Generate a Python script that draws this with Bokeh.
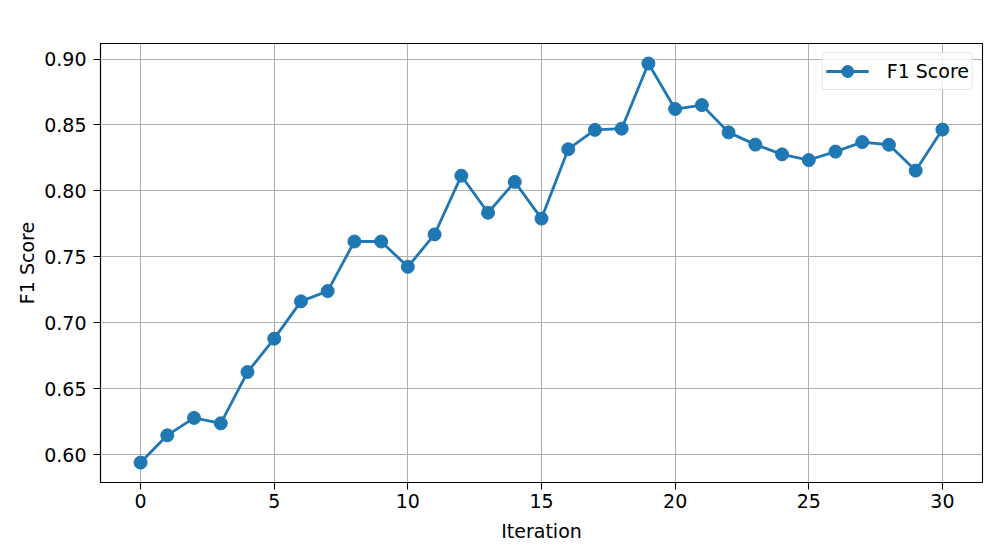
from bokeh.plotting import figure
from bokeh.models import FixedTicker, NumeralTickFormatter, Range1d, Legend, LegendItem
from bokeh.embed import file_html
from bokeh.resources import INLINE

iterations = list(range(31))
f1_scores = [0.5939, 0.6146, 0.6278, 0.6237, 0.6626, 0.6879, 0.7162, 0.7240,
             0.7616, 0.7616, 0.7424, 0.7670, 0.8115, 0.7834, 0.8068, 0.7790,
             0.8316, 0.8463, 0.8472, 0.8966, 0.8621, 0.8651, 0.8444, 0.8351,
             0.8277, 0.8234, 0.8298, 0.8370, 0.8350, 0.8154, 0.8465]
x_ticks = [0, 5, 10, 15, 20, 25, 30]
y_ticks = [0.60, 0.65, 0.70, 0.75, 0.80, 0.85, 0.90]

FONT = "DejaVu Sans"
FS = "19px"
BLUE = "#1f77b4"

p = figure(width=996, height=557, output_backend="svg", toolbar_location=None,
           x_range=Range1d(-1.5, 31.5), y_range=Range1d(0.5788, 0.9118),
           min_border_left=100, min_border_right=14, min_border_top=43, min_border_bottom=75)

line = p.line(iterations, f1_scores, line_color=BLUE, line_width=2.8)
pts = p.scatter(iterations, f1_scores, size=13, fill_color=BLUE, line_color=BLUE)

p.xaxis.ticker = FixedTicker(ticks=x_ticks)
p.yaxis.ticker = FixedTicker(ticks=y_ticks)
p.yaxis.formatter = NumeralTickFormatter(format="0.00")
p.xaxis.axis_label = "Iteration"
p.yaxis.axis_label = "F1 Score"
for ax in (p.xaxis, p.yaxis):
    ax.axis_label_text_font = FONT
    ax.axis_label_text_font_size = FS
    ax.axis_label_text_font_style = "normal"
    ax.axis_label_text_color = "black"
    ax.major_label_text_font = FONT
    ax.major_label_text_font_size = FS
    ax.major_label_text_color = "black"
    ax.minor_tick_line_color = None
    ax.major_tick_in = 0
    ax.major_tick_out = 7
    ax.major_tick_line_color = "black"
    ax.major_tick_line_width = 1.1
    ax.axis_line_color = "black"
    ax.axis_line_width = 1.1
p.xaxis.axis_label_standoff = 9
p.yaxis.axis_label_standoff = 3
p.xaxis.major_label_standoff = 4
p.yaxis.major_label_standoff = 7

p.outline_line_color = "black"
p.outline_line_width = 1.1
p.outline_line_alpha = 1
p.xgrid.grid_line_color = "#b0b0b0"
p.ygrid.grid_line_color = "#b0b0b0"
p.xgrid.grid_line_width = 1.1
p.ygrid.grid_line_width = 1.1

legend = Legend(items=[LegendItem(label="F1 Score", renderers=[line, pts])],
                location="top_right")
legend.label_text_font = FONT
legend.label_text_font_size = FS
legend.label_text_color = "black"
legend.border_line_color = "#cccccc"
legend.border_line_width = 1.1
legend.border_radius = 4
legend.background_fill_alpha = 0.8
legend.glyph_width = 43
legend.glyph_height = 30
legend.padding = 3
legend.spacing = 0
legend.margin = 9
legend.label_standoff = 18
p.add_layout(legend)

open("out.html", "w").write(file_html(p, INLINE))
